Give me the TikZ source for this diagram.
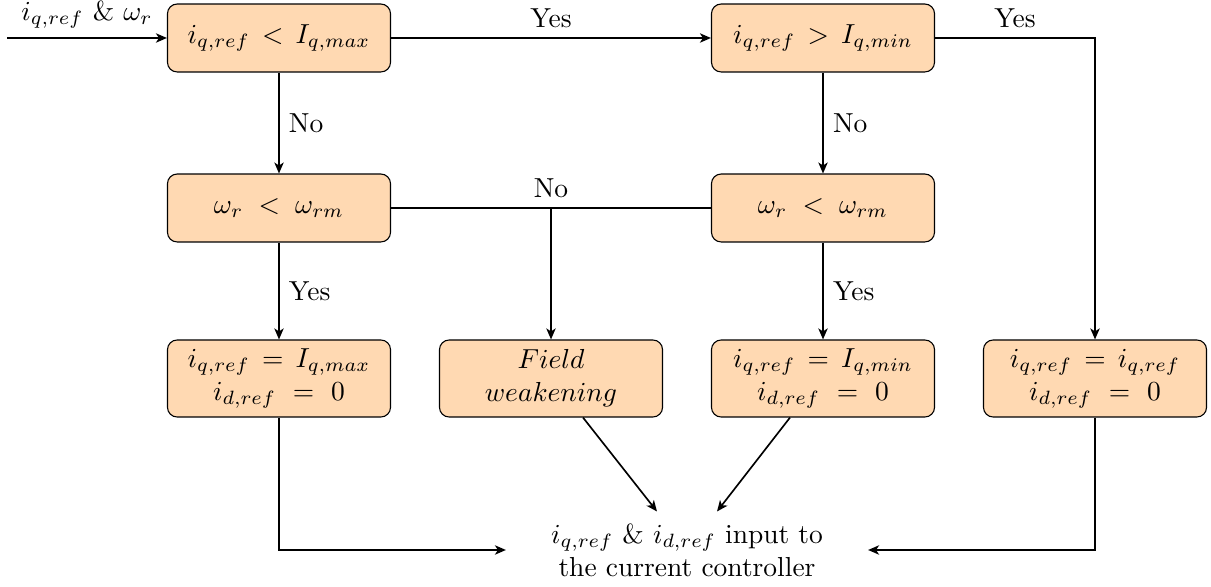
\documentclass[tikz,border=0pt]{standalone}
\usetikzlibrary{arrows.meta,calc}
\begin{document}
\begin{tikzpicture}[x=0.36364pt,y=-0.36364pt,
  box/.style={draw, fill=orange!30, rounded corners=3.5pt, minimum width=81.1pt,
    minimum height=24.7pt, align=center, inner sep=2pt},
  tallbox/.style={box, minimum height=28pt},
  conn/.style={semithick, -{Stealth[length=4pt,width=3.4pt,inset=1.1pt]}},
  plain/.style={semithick}]
\useasboundingbox (0,0) rectangle (1211,587);

\node[box] (A) at (279,38) {$i_{q,ref}\,<\,I_{q,max}$};
\node[box] (B) at (823,38) {$i_{q,ref}\,>\,I_{q,min}$};
\node[box] (C) at (279,208) {$\omega_r\;<\;\omega_{rm}$};
\node[box] (D) at (823,208) {$\omega_r\;<\;\omega_{rm}$};
\node[tallbox] (E) at (279,378.5) {$i_{q,ref}\,=\,I_{q,max}$\\$i_{d,ref}\ =\ 0$};
\node[tallbox] (F) at (551,378.5) {$Field$\\$weakening$};
\node[tallbox] (G) at (823,378.5) {$i_{q,ref}\,=\,I_{q,min}$\\$i_{d,ref}\ =\ 0$};
\node[tallbox] (H) at (1095,378.5) {$i_{q,ref}\,=\,i_{q,ref}$\\$i_{d,ref}\ =\ 0$};
\node[minimum width=131.3pt, minimum height=27.6pt, inner sep=0pt, align=center] (out) at (687,550)
  {$i_{q,ref}$ \& $i_{d,ref}$ input to\\the current controller};

\coordinate (in) at (7,38);
\draw[conn] (in) -- node[above] {$i_{q,ref}$ \& $\omega_r$} (A);
\draw[conn] (A) -- node[above] {Yes} (B);
\draw[conn] (B) -- node[above] {Yes} (B -| H) -- (H);
\draw[conn] (A) -- node[right] {No} (C);
\draw[conn] (B) -- node[right] {No} (D);
\draw[plain] (C) -- coordinate[midway] (j) node[midway, above] {No} (D);
\draw[conn] (j) -- (j |- F.north);
\draw[conn] (C) -- node[right] {Yes} (E);
\draw[conn] (D) -- node[right] {Yes} (G);
\draw[conn] (E) |- (out);
\draw[conn] (H) |- (out);
\draw[conn] ($(F.south)+(32,0)$) -- ($(out.north)+(-30,0)$);
\draw[conn] ($(G.south)+(-33,0)$) -- ($(out.north)+(30,0)$);
\end{tikzpicture}
\end{document}
